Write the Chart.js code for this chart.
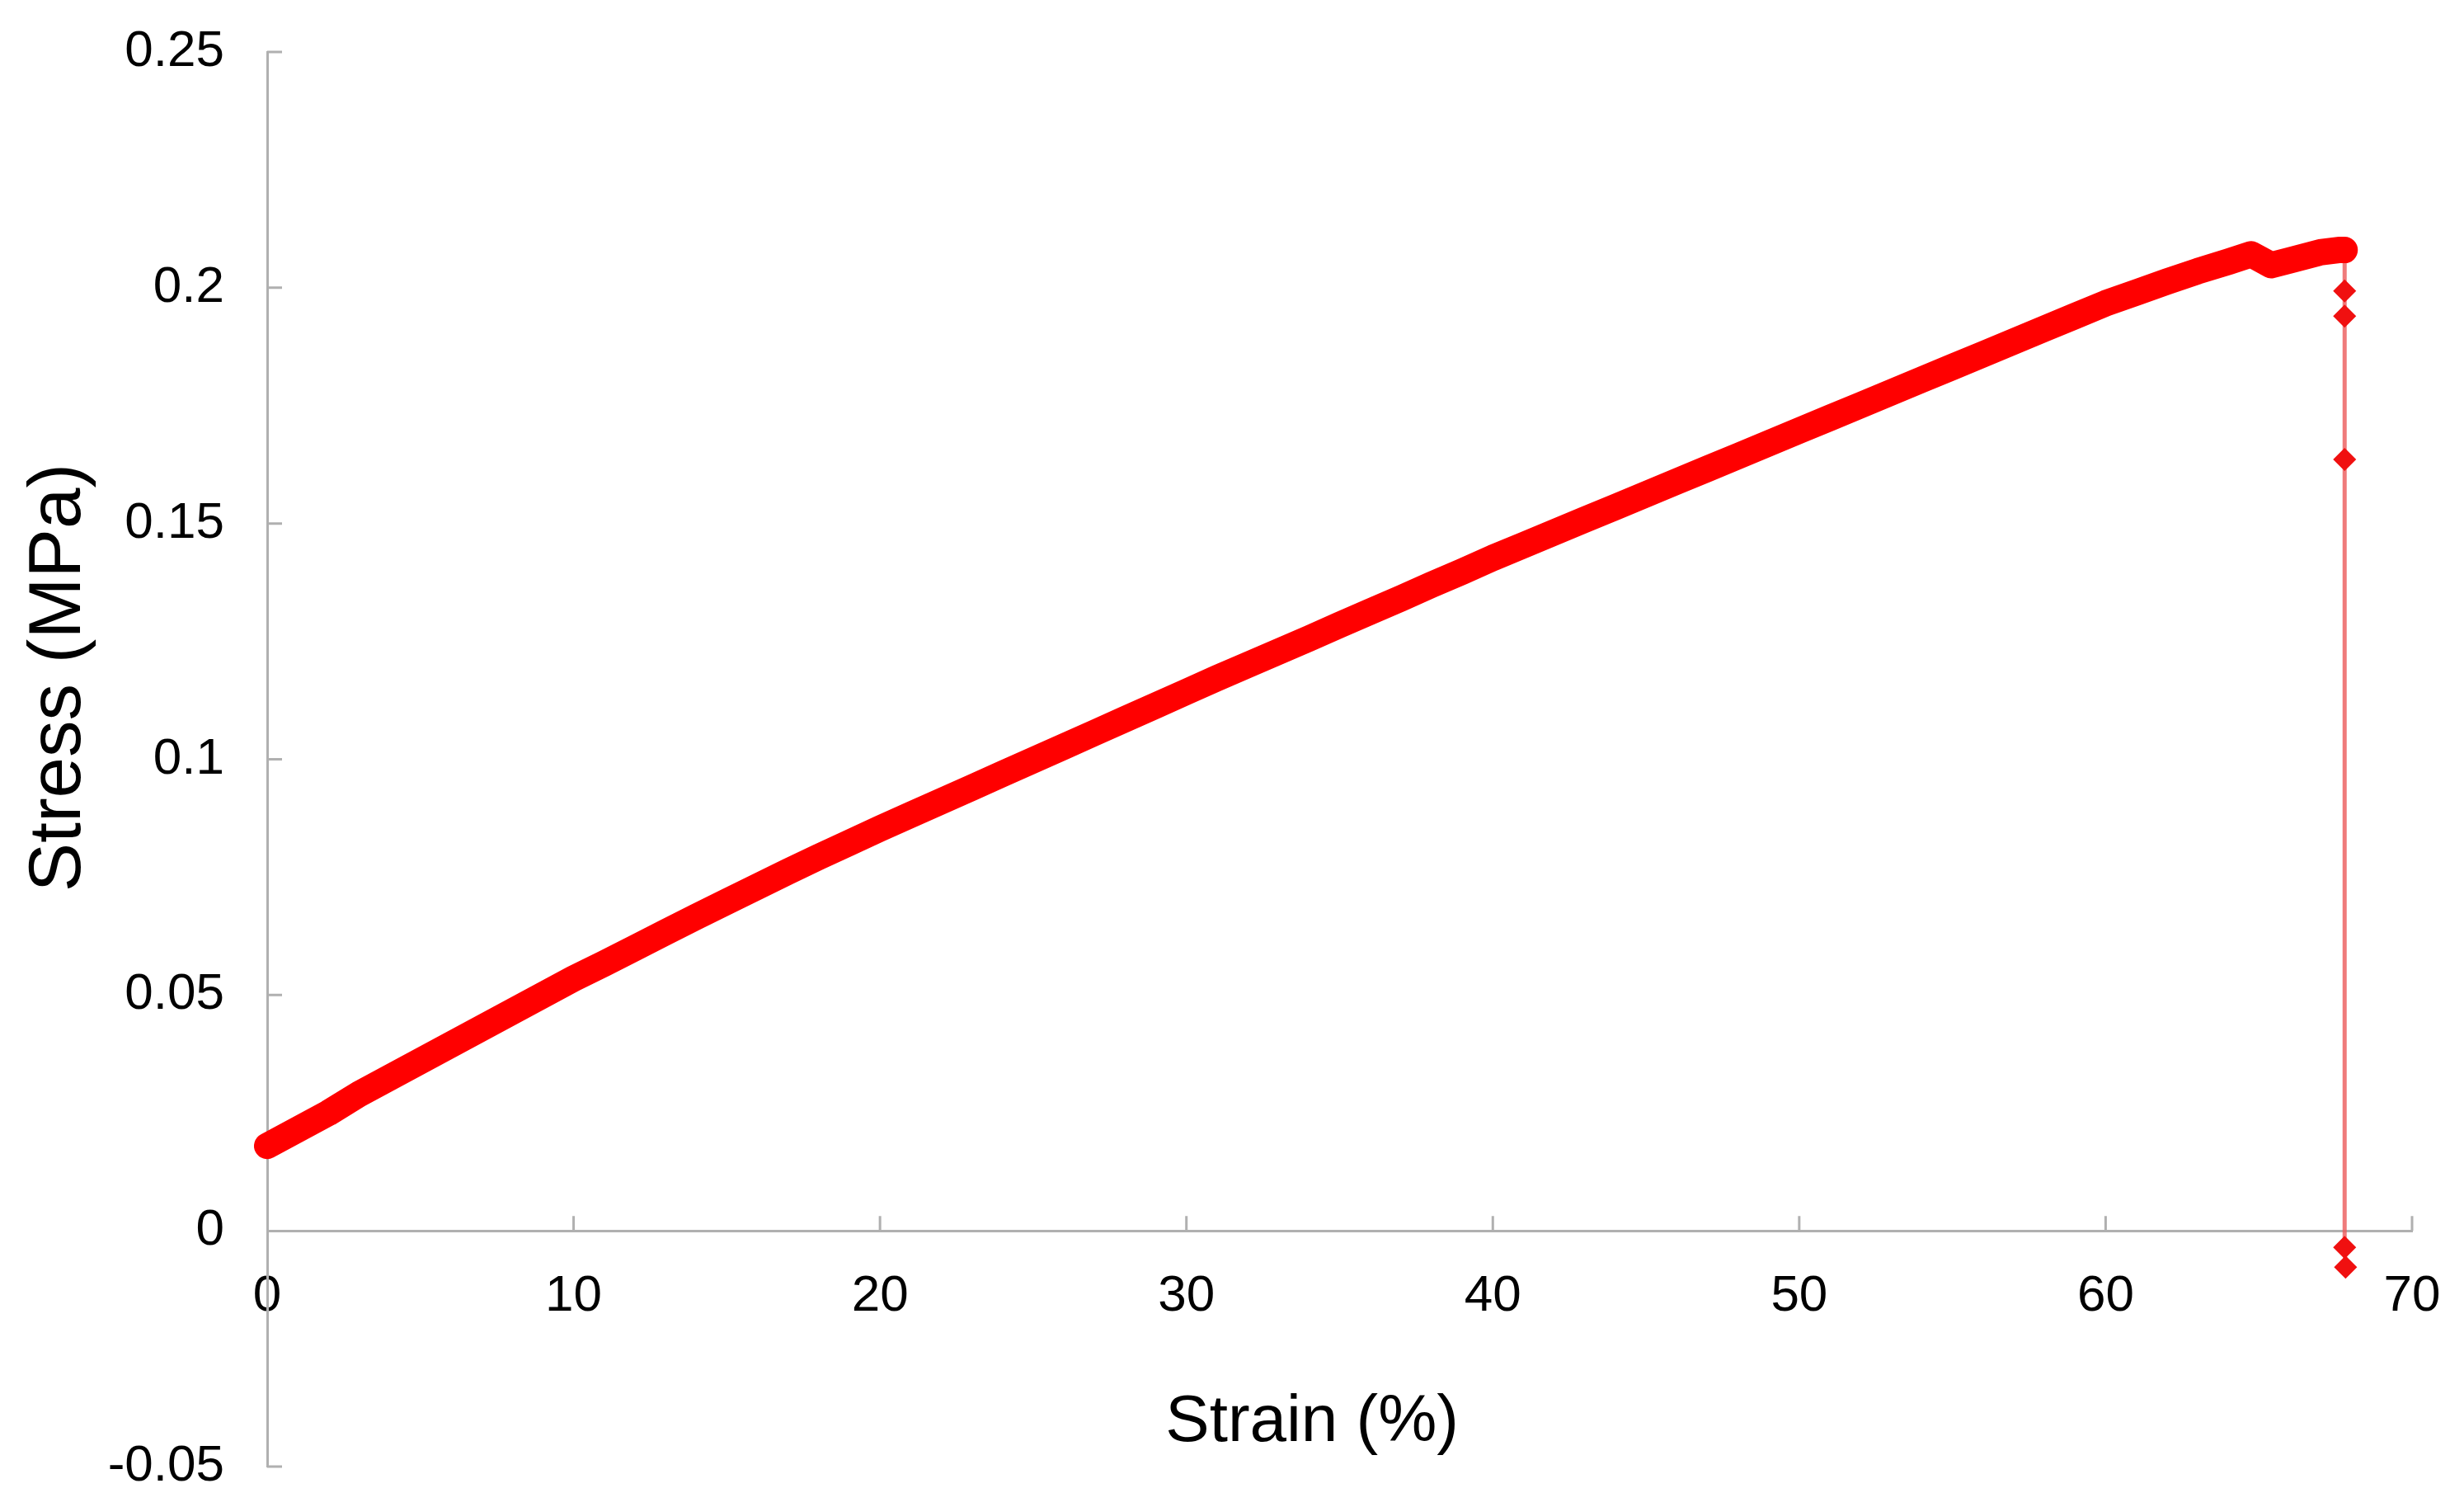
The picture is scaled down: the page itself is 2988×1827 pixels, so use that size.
<!DOCTYPE html>
<html lang="en">
<head>
    <meta charset="UTF-8">
    <title>Stress-strain curve</title>
    <script src="https://cdnjs.cloudflare.com/ajax/libs/Chart.js/4.4.1/chart.umd.min.js"></script>
    <style>
        body { margin: 0; background: #ffffff; }
    </style>
</head>
<body>
<canvas id="myChart" width="2988" height="1827"></canvas>

<script>
    // main loading curve
    const strain = [0, 1, 2, 3, 4, 5, 6, 7, 8, 9, 10, 11, 12, 13, 14, 15, 16, 17, 18, 19, 20,
        21, 22, 23, 24, 25, 26, 27, 28, 29, 30, 31, 32, 33, 34, 35, 36, 37, 38, 39, 40,
        41, 42, 43, 44, 45, 46, 47, 48, 49, 50, 51, 52, 53, 54, 55, 56, 57, 58, 59, 60,
        61, 62, 63, 64, 64.75, 65.4, 66, 67, 67.6, 67.8];
    const stress = [0.018, 0.0215, 0.025, 0.029, 0.0325, 0.036, 0.0395, 0.043, 0.0465, 0.050, 0.0535,
        0.0567, 0.060, 0.0633, 0.0666, 0.0698, 0.073, 0.0762, 0.0793, 0.0823, 0.0853,
        0.0882, 0.0911, 0.094, 0.0969, 0.0998, 0.1027, 0.1056, 0.1085, 0.1114, 0.1143,
        0.1172, 0.120, 0.1228, 0.1256, 0.1285, 0.1313, 0.1341, 0.137, 0.1398, 0.1427,
        0.1454, 0.1481, 0.1508, 0.1535, 0.1562, 0.1589, 0.1616, 0.1643, 0.167, 0.1697,
        0.1724, 0.1751, 0.1778, 0.1805, 0.1832, 0.1859, 0.1886, 0.1913, 0.194, 0.1967,
        0.199, 0.2013, 0.2035, 0.2055, 0.2071, 0.2048, 0.2058, 0.2075, 0.208, 0.208];

    // failure: the sample breaks and stress falls to zero
    const dropStrain = [67.8, 67.8, 67.8, 67.8, 67.8, 67.83];
    const dropStress = [0.208, 0.1993, 0.194, 0.1636, -0.0035, -0.0077];

    const xTickValues = [0, 10, 20, 30, 40, 50, 60, 70];
    const yTickValues = [-0.05, 0, 0.05, 0.1, 0.15, 0.2, 0.25];

    const AXIS_COLOR = '#b0b0b0';
    const FONT = "'Liberation Sans', Arial, sans-serif";

    // Excel style ticks pointing into the plot
    const innerTicks = {
        id: 'innerTicks',
        beforeDatasetsDraw(chart) {
            const ctx = chart.ctx;
            const xs = chart.scales.x;
            const ys = chart.scales.y;
            const y0 = ys.getPixelForValue(0);
            const left = chart.chartArea.left;
            ctx.save();
            ctx.strokeStyle = AXIS_COLOR;
            ctx.lineWidth = 3;
            ctx.beginPath();
            xTickValues.forEach(v => {
                if (v === 0) return;
                const px = xs.getPixelForValue(v);
                ctx.moveTo(px, y0);
                ctx.lineTo(px, y0 - 18);
            });
            yTickValues.forEach(v => {
                if (v === 0) return;
                const py = ys.getPixelForValue(v);
                ctx.moveTo(left, py);
                ctx.lineTo(left + 18, py);
            });
            ctx.stroke();
            ctx.restore();
        }
    };

    const canvas = document.getElementById('myChart');

    new Chart(canvas, {
        type: 'scatter',
        data: {
            datasets: [{
                data: strain.map((x, i) => ({x: x, y: stress[i]})),
                showLine: true,
                borderColor: '#ff0000',
                borderWidth: 32,
                borderCapStyle: 'round',
                borderJoinStyle: 'round',
                pointRadius: 0,
                clip: false
            }, {
                data: dropStrain.map((x, i) => ({x: x, y: dropStress[i]})),
                showLine: true,
                borderColor: 'rgba(235, 90, 90, 0.8)',
                borderWidth: 5,
                pointStyle: 'rectRot',
                pointRadius: [0, 14, 14, 14, 14, 14],
                pointBackgroundColor: '#f01010',
                pointBorderWidth: 0,
                clip: false
            }]
        },
        options: {
            responsive: false,
            animation: false,
            layout: {
                padding: {left: 0, top: 63, right: 63, bottom: 49}
            },
            plugins: {
                legend: {display: false},
                tooltip: {enabled: false}
            },
            scales: {
                x: {
                    type: 'linear',
                    position: {y: 0},
                    min: 0,
                    max: 70,
                    afterBuildTicks: scale => {
                        scale.ticks = xTickValues.map(v => ({value: v}));
                    },
                    afterFit: scale => {
                        scale.height = 49;
                        scale.paddingLeft = 0;
                        scale.paddingRight = 0;
                    },
                    grid: {display: false, drawTicks: false},
                    border: {display: true, color: AXIS_COLOR, width: 3},
                    ticks: {
                        color: '#000000',
                        padding: 43,
                        maxRotation: 0,
                        font: {family: FONT, size: 62}
                    },
                    title: {
                        display: true,
                        text: 'Strain (%)   ',
                        color: '#000000',
                        font: {family: FONT, size: 80},
                        padding: {top: 0, bottom: -232}
                    }
                },
                y: {
                    type: 'linear',
                    position: 'left',
                    min: -0.05,
                    max: 0.25,
                    afterBuildTicks: scale => {
                        scale.ticks = yTickValues.map(v => ({value: v}));
                    },
                    afterFit: scale => {
                        scale.width = 324;
                        scale.paddingTop = 0;
                        scale.paddingBottom = 0;
                    },
                    grid: {display: false, drawTicks: false},
                    border: {display: true, color: AXIS_COLOR, width: 3},
                    ticks: {
                        color: '#000000',
                        padding: 52,
                        font: {family: FONT, size: 62},
                        callback: v => String(+v.toFixed(2))
                    },
                    title: {
                        display: true,
                        text: '        Stress (MPa)',
                        color: '#000000',
                        font: {family: FONT, size: 89},
                        padding: {top: 19, bottom: 0}
                    }
                }
            }
        },
        plugins: [innerTicks]
    });
</script>
</body>
</html>
